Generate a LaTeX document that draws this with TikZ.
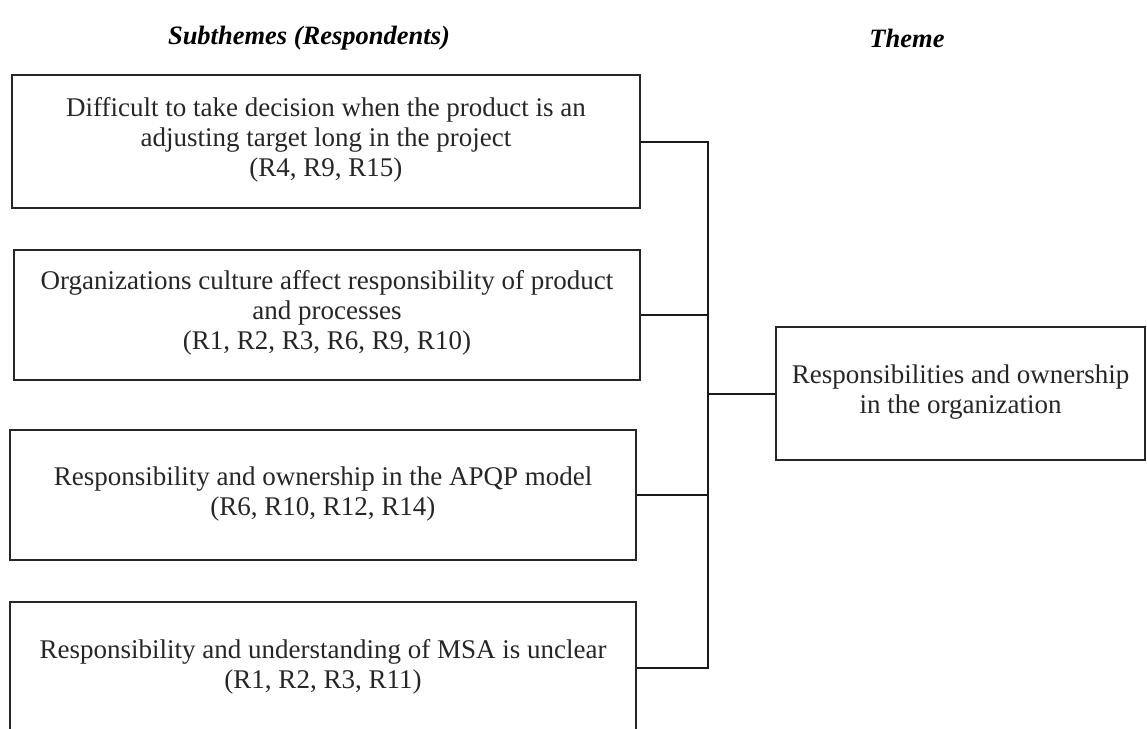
\documentclass[tikz,border=0pt]{standalone}
\usepackage{fontspec}
\setmainfont{Liberation Serif}
\begin{document}
\begin{tikzpicture}[x=1pt,y=-1pt,
  subbox/.style={draw=black!85, line width=2pt, inner sep=0pt},
  boxtext/.style={align=center, inner sep=0pt, text=black!85,
    font=\fontsize{27}{30}\selectfont},
  heading/.style={font=\fontsize{26.5}{30}\selectfont\bfseries\itshape},
  link/.style={draw=black!90, line width=2pt}]
\useasboundingbox (0,0) rectangle (1147,728);

% column headings
\node[heading] (hsub) at (309,38) {Subthemes (Respondents)};
\node[heading] (htheme) at (907,38) {Theme};

% subtheme boxes
\node[subbox, minimum width=628pt, minimum height=133pt] (b1) at (326,141.5) {};
\node[subbox, minimum width=626pt, minimum height=130pt] (b2) at (327,315) {};
\node[subbox, minimum width=626pt, minimum height=130pt] (b3) at (323,495) {};
\node[subbox, minimum width=626pt, minimum height=132pt] (b4) at (323,668) {};

% subtheme texts
\node[boxtext] (t1) at ([yshift=2pt]b1.center)
  {Difficult to take decision when the product is an\\adjusting target long in the project\\(R4, R9, R15)};
\node[boxtext] (t2) at ([yshift=2pt]b2.center)
  {Organizations culture affect responsibility of product\\and processes\\(R1, R2, R3, R6, R9, R10)};
\node[boxtext] (t3) at ([yshift=1pt]b3.center)
  {Responsibility and ownership in the APQP model\\(R6, R10, R12, R14)};
\node[boxtext] (t4) at ([yshift=1pt]b4.center)
  {Responsibility and understanding of MSA is unclear\\(R1, R2, R3, R11)};

% theme box
\node[subbox, minimum width=369pt, minimum height=133pt] (theme) at (960.5,393.5) {};
\node[boxtext] (tt) at ([yshift=1pt]theme.center)
  {Responsibilities and ownership\\in the organization};

% bracket joining the subthemes to the theme
\coordinate (j) at (707.5,393.5);
\draw[link] (b1.east) -| (j);
\draw[link] (b2.east) -| (j);
\draw[link] (b3.east) -| (j);
\draw[link] (b4.east) -| (j);
\draw[link] (j) -- (theme.west);
\end{tikzpicture}
\end{document}
